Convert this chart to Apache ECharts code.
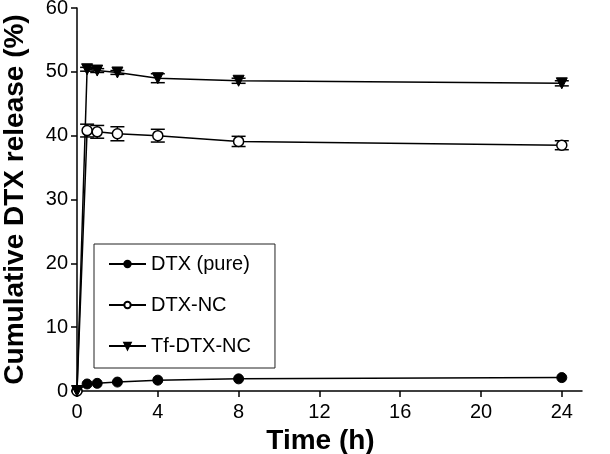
<!DOCTYPE html>
<html>
<head>
<meta charset="utf-8">
<script src="https://cdn.jsdelivr.net/npm/echarts@6/dist/echarts.min.js"></script>
<style>
  html, body { margin: 0; padding: 0; background: #fff; }
  #chart { width: 610px; height: 454px; }
</style>
</head>
<body>
<div id="chart"></div>
<script>
// time points (h)
var times = [0, 0.5, 1, 2, 4, 8, 24];
// cumulative release (%)
var dtxPure = [0, 1.1, 1.2, 1.4, 1.7, 1.9, 2.1];
var dtxNC = [0, 40.8, 40.6, 40.3, 40.0, 39.1, 38.5];
var tfDtxNC = [0, 50.4, 50.2, 49.9, 49.0, 48.6, 48.2];
// error (+/-)
var dtxPureErr = [0, 0, 0, 0, 0, 0, 0];
var dtxNCErr = [0, 1.0, 1.0, 1.1, 1.0, 0.8, 0.7];
var tfDtxNCErr = [0, 0.3, 0.3, 0.3, 0.7, 0.4, 0.4];
var xTicks = [0, 4, 8, 12, 16, 20, 24];

var chart = echarts.init(document.getElementById('chart'));

function pts(vals) {
  return times.map(function (t, i) { return [t, vals[i]]; });
}
function errData(vals, errs) {
  var out = [];
  times.forEach(function (t, i) {
    if (errs[i] > 0) out.push([t, vals[i] - errs[i], vals[i] + errs[i]]);
  });
  return out;
}
// error bars with caps
function errSeries(vals, errs) {
  return {
    type: 'custom',
    data: errData(vals, errs),
    z: 1,
    silent: true,
    renderItem: function (params, api) {
      var lo = api.coord([api.value(0), api.value(1)]);
      var hi = api.coord([api.value(0), api.value(2)]);
      var w = 7;
      var st = { stroke: '#000', lineWidth: 1.5 };
      return {
        type: 'group',
        children: [
          { type: 'line', shape: { x1: lo[0], y1: lo[1], x2: hi[0], y2: hi[1] }, style: st },
          { type: 'line', shape: { x1: lo[0] - w, y1: lo[1], x2: lo[0] + w, y2: lo[1] }, style: st },
          { type: 'line', shape: { x1: hi[0] - w, y1: hi[1], x2: hi[0] + w, y2: hi[1] }, style: st }
        ]
      };
    }
  };
}

var font = 'Liberation Sans, Arial, sans-serif';

var option = {
  animation: false,
  backgroundColor: '#fff',
  grid: { left: 77, right: 28, top: 8, bottom: 63, outerBoundsMode: 'none' },
  legend: {
    left: 94,
    top: 244,
    orient: 'vertical',
    padding: [10, 24, 12, 14],
    borderColor: '#222',
    borderWidth: 1,
    itemWidth: 37,
    itemHeight: 8,
    itemGap: 21,
    textStyle: { fontFamily: font, fontSize: 20, color: '#000' },
    data: ['DTX (pure)', 'DTX-NC', 'Tf-DTX-NC']
  },
  xAxis: {
    type: 'value',
    min: 0,
    max: 25,
    name: 'Time (h)',
    nameLocation: 'middle',
    nameGap: 32,
    nameTextStyle: { fontFamily: font, fontSize: 28, fontWeight: 'bold', color: '#000', padding: [0, 18, 0, 0] },
    splitLine: { show: false },
    axisLine: { lineStyle: { color: '#000', width: 1.5 } },
    axisTick: { show: true, length: 6, customValues: xTicks, lineStyle: { color: '#000', width: 1.5 } },
    axisLabel: { customValues: xTicks, fontFamily: font, fontSize: 20, color: '#000', margin: 11 }
  },
  yAxis: {
    type: 'value',
    min: 0,
    max: 60,
    interval: 10,
    name: 'Cumulative DTX release (%)',
    nameLocation: 'middle',
    nameGap: 48,
    nameTextStyle: { fontFamily: font, fontSize: 28, fontWeight: 'bold', color: '#000' },
    splitLine: { show: false },
    axisLine: { show: true, lineStyle: { color: '#000', width: 1.5 } },
    axisTick: { show: true, length: 6, lineStyle: { color: '#000', width: 1.5 } },
    axisLabel: { fontFamily: font, fontSize: 20, color: '#000', margin: 9 }
  },
  series: [
    errSeries(dtxNC, dtxNCErr),
    errSeries(tfDtxNC, tfDtxNCErr),
    {
      name: 'DTX (pure)',
      type: 'line',
      data: pts(dtxPure),
      symbol: 'circle',
      symbolSize: 10,
      z: 3,
      lineStyle: { color: '#000', width: 1.5 },
      itemStyle: { color: '#000', borderColor: '#000', borderWidth: 1 }
    },
    {
      name: 'DTX-NC',
      type: 'line',
      data: pts(dtxNC),
      symbol: 'circle',
      symbolSize: 10,
      z: 3,
      lineStyle: { color: '#000', width: 1.5 },
      itemStyle: { color: '#fff', borderColor: '#000', borderWidth: 1.5 }
    },
    {
      name: 'Tf-DTX-NC',
      type: 'line',
      data: pts(tfDtxNC),
      symbol: 'triangle',
      symbolRotate: 180,
      symbolSize: 11,
      z: 3,
      lineStyle: { color: '#000', width: 1.5 },
      itemStyle: { color: '#000', borderColor: '#000', borderWidth: 1 }
    }
  ]
};

chart.setOption(option);
</script>
</body>
</html>
